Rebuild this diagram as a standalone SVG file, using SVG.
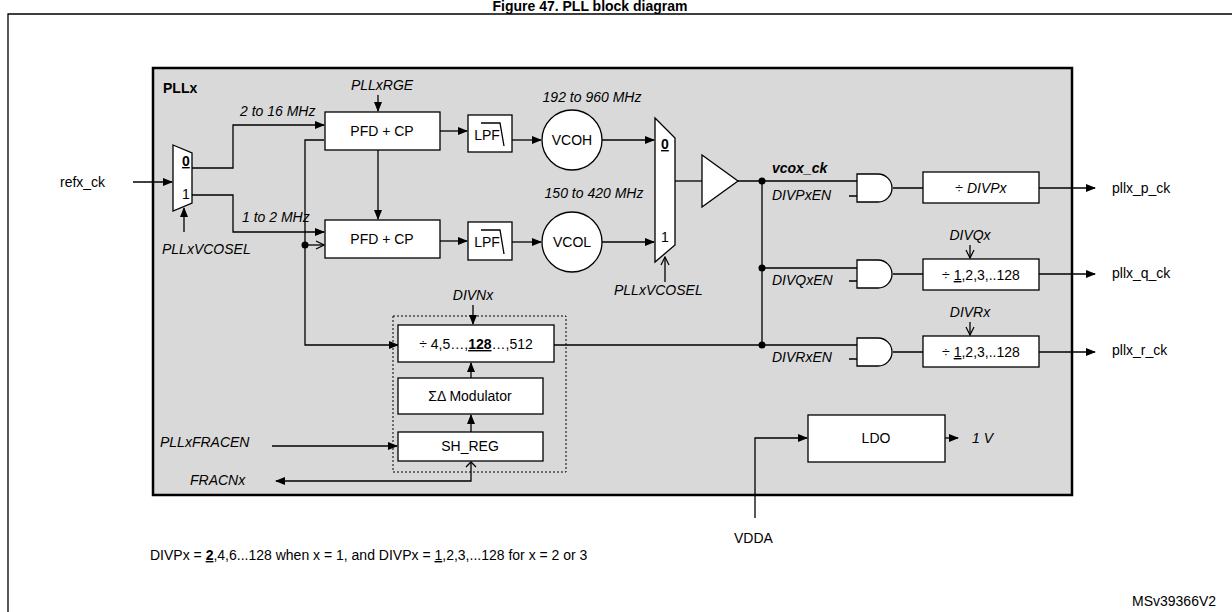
<svg xmlns="http://www.w3.org/2000/svg" width="1232" height="612" viewBox="0 0 1232 612">
<style>
text{font-family:"Liberation Sans",Arial,sans-serif;font-size:14px;fill:#000}
.i{font-style:italic}
.c{text-anchor:middle}
.b{fill:#fff;stroke:#000;stroke-width:1.3}
.w{fill:none;stroke:#000;stroke-width:1.3}
</style>
<defs>
<marker id="a" markerWidth="10" markerHeight="8" refX="9" refY="4" orient="auto" markerUnits="userSpaceOnUse"><path d="M0,0L10,4L0,8z" style="fill:#000;stroke:none"/></marker>
<marker id="o" markerWidth="10" markerHeight="10" refX="9" refY="5" orient="auto" markerUnits="userSpaceOnUse"><path d="M1,1L9,5L1,9" style="fill:none;stroke:#000;stroke-width:1.2"/></marker>
</defs>
<rect width="1232" height="612" fill="#fff"/>
<text x="590" y="11" class="c" style="font-weight:bold;font-size:14px">Figure 47. PLL block diagram</text>
<path d="M8,612V14H1232" class="w" stroke-width="2"/>
<rect x="153" y="68" width="919" height="427" fill="#d9d9d9" stroke="#000" stroke-width="2.5"/>
<text x="163" y="93" style="font-weight:bold">PLLx</text>
<g id="fracgroup"><rect x="393" y="316" width="173" height="156" fill="none" stroke="#000" stroke-dasharray="2,2"/></g>
<g id="connectors" class="w">
<path d="M133,182H172" marker-end="url(#a)"/>
<path d="M184,232V208" marker-end="url(#a)"/>
<path d="M192,168H233V125H324" marker-end="url(#a)"/>
<path d="M192,195H233V232H324" marker-end="url(#a)"/>
<path d="M324,140H305V345H398" marker-end="url(#a)"/>
<path d="M305,245H324" marker-end="url(#o)"/>
<path d="M378,95V111" marker-end="url(#a)"/>
<path d="M378,150V219" marker-end="url(#a)"/>
<path d="M440,131H467" marker-end="url(#a)"/>
<path d="M440,241H467" marker-end="url(#a)"/>
<path d="M512,140H541" marker-end="url(#a)"/>
<path d="M512,242H541" marker-end="url(#a)"/>
<path d="M602,140H654" marker-end="url(#a)"/>
<path d="M602,242H654" marker-end="url(#a)"/>
<path d="M665,282V257" marker-end="url(#o)"/>
<path d="M675,181H702"/>
<path d="M738,181H857M762,181V345M762,268H857M554,345H857"/>
<path d="M849,196H857M849,281H857M849,359H857"/>
<path d="M893,188H923M893,274H923M893,352H923"/>
<path d="M1039,188H1095" marker-end="url(#a)"/>
<path d="M1039,274H1095" marker-end="url(#a)"/>
<path d="M1039,352H1095" marker-end="url(#a)"/>
<path d="M970,245V258" marker-end="url(#o)"/>
<path d="M970,322V335" marker-end="url(#o)"/>
<path d="M473,305V324" marker-end="url(#a)"/>
<path d="M471,378V363" marker-end="url(#a)"/>
<path d="M471,432V415" marker-end="url(#a)"/>
<path d="M272,446H397" marker-end="url(#a)"/>
<path d="M471,462V481H276" marker-end="url(#a)"/>
<path d="M466,467L471,462L476,467"/>
<path d="M945,438H958" marker-end="url(#a)"/>
<path d="M755,518V438H807" marker-end="url(#a)"/>
</g>
<g id="dots"><circle cx="305" cy="245" r="3.5"/><circle cx="762" cy="181" r="3.5"/><circle cx="762" cy="268" r="3.5"/><circle cx="762" cy="345" r="3.5"/></g>
<g id="mux1"><path d="M173,145L192,153V203L173,211Z" class="b"/><text x="182" y="166" style="font-weight:bold;text-decoration:underline">0</text><text x="182" y="199">1</text></g>
<text x="60" y="187">refx_ck</text>
<text x="162" y="254" class="i">PLLxVCOSEL</text>
<text x="240" y="116" class="i">2 to 16 MHz</text>
<text x="242" y="222" class="i">1 to 2 MHz</text>
<text x="382" y="90" class="i c">PLLxRGE</text>
<g id="pfd1"><rect x="325" y="112" width="115" height="38" class="b"/><text x="382" y="136" class="c">PFD + CP</text></g>
<g id="pfd2"><rect x="325" y="220" width="115" height="38" class="b"/><text x="382" y="244" class="c">PFD + CP</text></g>
<g id="lpf1"><rect x="468" y="115" width="44" height="37" class="b"/><path d="M481,123H500L504,146" class="w"/><text x="487" y="140" class="c">LPF</text></g>
<g id="lpf2"><rect x="468" y="222" width="44" height="38" class="b"/><path d="M481,230H500L504,254" class="w"/><text x="487" y="247" class="c">LPF</text></g>
<g id="vcoh"><circle cx="572" cy="140" r="30" class="b"/><text x="572" y="145" class="c">VCOH</text></g>
<g id="vcol"><circle cx="572" cy="242" r="30" class="b"/><text x="572" y="247" class="c">VCOL</text></g>
<text x="592" y="102" class="i c">192 to 960 MHz</text>
<text x="594" y="198" class="i c">150 to 420 MHz</text>
<g id="mux2"><path d="M655,118L675,138V245L655,262Z" class="b"/><text x="661" y="149" style="font-weight:bold;text-decoration:underline">0</text><text x="661" y="242">1</text></g>
<text x="614" y="295" class="i">PLLxVCOSEL</text>
<g id="buf"><path d="M702,155L738,181L702,207Z" class="b"/></g>
<text x="772" y="173" class="i" style="font-weight:bold">vcox_ck</text>
<text x="772" y="200" class="i">DIVPxEN</text>
<text x="772" y="285" class="i">DIVQxEN</text>
<text x="772" y="362" class="i">DIVRxEN</text>
<g id="andp"><path d="M857,174H878A14,14 0 0 1 878,202H857Z" class="b"/></g>
<g id="andq"><path d="M857,260H878A14,14 0 0 1 878,288H857Z" class="b"/></g>
<g id="andr"><path d="M857,338H878A14,14 0 0 1 878,366H857Z" class="b"/></g>
<g id="divp"><rect x="923" y="172" width="116" height="31" class="b"/><text x="981" y="193" class="c">÷ <tspan class="i">DIVPx</tspan></text></g>
<g id="divq"><rect x="923" y="259" width="116" height="31" class="b"/><text x="981" y="280" class="c">÷ <tspan style="text-decoration:underline">1</tspan>,2,3,..128</text></g>
<g id="divr"><rect x="923" y="336" width="116" height="31" class="b"/><text x="981" y="357" class="c">÷ <tspan style="text-decoration:underline">1</tspan>,2,3,..128</text></g>
<text x="970" y="240" class="i c">DIVQx</text>
<text x="970" y="317" class="i c">DIVRx</text>
<text x="1112" y="193">pllx_p_ck</text>
<text x="1112" y="278">pllx_q_ck</text>
<text x="1112" y="355">pllx_r_ck</text>
<text x="473" y="300" class="i c">DIVNx</text>
<g id="divn"><rect x="398" y="325" width="156" height="37" class="b"/><text x="476" y="349" class="c">÷ 4,5…,<tspan style="font-weight:bold;text-decoration:underline">128</tspan>…,512</text></g>
<g id="sdm"><rect x="398" y="378" width="145" height="36" class="b"/><text x="470" y="401" class="c">ΣΔ Modulator</text></g>
<g id="shreg"><rect x="398" y="432" width="145" height="29" class="b"/><text x="470" y="451" class="c">SH_REG</text></g>
<text x="160" y="447" class="i">PLLxFRACEN</text>
<text x="190" y="485" class="i">FRACNx</text>
<g id="ldo"><rect x="808" y="415" width="137" height="47" class="b"/><text x="876" y="443" class="c">LDO</text></g>
<text x="972" y="443" class="i">1 V</text>
<text x="734" y="543">VDDA</text>
<text x="150" y="560">DIVPx = <tspan style="font-weight:bold;text-decoration:underline">2</tspan>,4,6...128 when x = 1, and DIVPx = <tspan style="text-decoration:underline">1</tspan>,2,3,...128 for x = 2 or 3</text>
<text x="1132" y="606">MSv39366V2</text>
</svg>
